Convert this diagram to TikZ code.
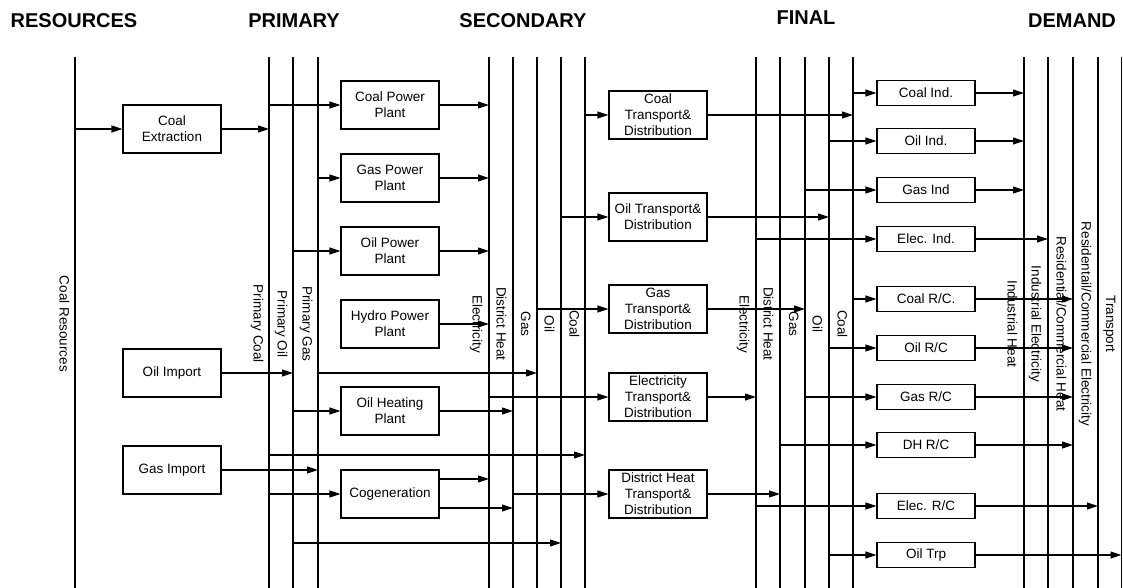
\documentclass[tikz,border=0pt]{standalone}
\usepackage{fontspec}
\setmainfont{Liberation Sans}
\usetikzlibrary{arrows.meta}

\begin{document}
\begin{tikzpicture}[
  x=1pt, y=-1pt, line width=1.1pt,
  font=\fontsize{13.5}{16}\selectfont,
  head/.style={font=\fontsize{20}{24}\selectfont\bfseries},
  box/.style={draw, minimum width=98pt, minimum height=48pt, inner sep=0pt, align=center},
  dbox/.style={draw, minimum width=98pt, minimum height=25pt, inner sep=0pt, align=center},
  lab/.style={rotate=-90, anchor=north, inner sep=0pt},
  flow/.style={draw, -{Triangle[length=11pt, width=7pt]}}
]
\useasboundingbox (0,0) rectangle (1123,588);

\node[head] (hres) at (74,21) {RESOURCES};
\node[head] (hprim) at (294,21) {PRIMARY};
\node[head] (hsec) at (523,21) {SECONDARY};
\node[head] (hfin) at (806,18) {FINAL};
\node[head] (hdem) at (1072,21) {DEMAND};

\coordinate (res) at (75,57);
\coordinate (pcoal) at (269,57);
\coordinate (poil) at (293,57);
\coordinate (pgas) at (318,57);
\coordinate (selec) at (489,57);
\coordinate (sdh) at (513,57);
\coordinate (sgas) at (537,57);
\coordinate (soil) at (561,57);
\coordinate (scoal) at (585,57);
\coordinate (felec) at (756,57);
\coordinate (fdh) at (780,57);
\coordinate (fgas) at (805,57);
\coordinate (foil) at (829,57);
\coordinate (fcoal) at (853,57);
\coordinate (dheat) at (1024,57);
\coordinate (delec) at (1048,57);
\coordinate (drheat) at (1073,57);
\coordinate (drelec) at (1098,57);
\coordinate (dtrp) at (1121.5,57);
\foreach \b in {res,pcoal,poil,pgas,selec,sdh,sgas,soil,scoal,felec,fdh,fgas,foil,fcoal,dheat,delec,drheat,drelec,dtrp}
  \draw (\b) -- (\b |- 0,588);

\node[lab] (lres) at (70,324) {Coal Resources};
\node[lab] (lpcoal) at (264,324) {Primary Coal};
\node[lab] (lpoil) at (288,324) {Primary Oil};
\node[lab] (lpgas) at (313,324) {Primary Gas};
\node[lab] (lselec) at (483,324) {Electricity};
\node[lab] (lsdh) at (507,324) {District Heat};
\node[lab] (lsgas) at (531,324) {Gas};
\node[lab] (lsoil) at (555,324) {Oil};
\node[lab] (lscoal) at (580,324) {Coal};
\node[lab] (lfelec) at (750,324) {Electricity};
\node[lab] (lfdh) at (774,324) {District Heat};
\node[lab] (lfgas) at (799,324) {Gas};
\node[lab] (lfoil) at (823,324) {Oil};
\node[lab] (lfcoal) at (848,324) {Coal};
\node[lab] (ldheat) at (1018,324) {Industrial Heat};
\node[lab] (ldelec) at (1042,324) {Industrial Electricity};
\node[lab] (ldrheat) at (1067,324) {Residential/Commercial Heat};
\node[lab] (ldrelec) at (1092,324) {Residentail/Commercial Electricity};
\node[lab] (ldtrp) at (1116,324) {Transport};

\node[box] (cext) at (172,129) {Coal\\Extraction};
\node[box] (oimp) at (172,373) {Oil Import};
\node[box] (gimp) at (172,470) {Gas Import};

\node[box] (cpp) at (390,105) {Coal Power\\Plant};
\node[box] (gpp) at (390,178) {Gas Power\\Plant};
\node[box] (opp) at (390,251) {Oil Power\\Plant};
\node[box] (hpp) at (390,324) {Hydro Power\\Plant};
\node[box] (ohp) at (390,411) {Oil Heating\\Plant};
\node[box] (cog) at (390,494) {Cogeneration};

\node[box] (ctd) at (658,115) {Coal\\Transport\&\\Distribution};
\node[box] (otd) at (658,217) {Oil Transport\&\\Distribution};
\node[box] (gtd) at (658,309) {Gas\\Transport\&\\Distribution};
\node[box] (etd) at (658,397) {Electricity\\Transport\&\\Distribution};
\node[box] (htd) at (658,494) {District Heat\\Transport\&\\Distribution};

\node[dbox] (cind) at (926,93) {Coal Ind.};
\node[dbox] (oind) at (926,141) {Oil Ind.};
\node[dbox] (gind) at (926,190) {Gas Ind};
\node[dbox] (eind) at (926,239) {Elec. Ind.};
\node[dbox] (crc) at (926,299) {Coal R/C.};
\node[dbox] (orc) at (926,348) {Oil R/C};
\node[dbox] (grc) at (926,397) {Gas R/C};
\node[dbox] (hrc) at (926,445) {DH R/C};
\node[dbox] (erc) at (926,506) {Elec. R/C};
\node[dbox] (otrp) at (926,555) {Oil Trp};

\draw[flow] (res |- cext.west) -- (cext.west);
\draw[flow] (cext.east) -- (cext.east -| pcoal);
\draw[flow] (oimp.east) -- (oimp.east -| poil);
\draw[flow] (gimp.east) -- (gimp.east -| pgas);

\draw[flow] (pcoal |- cpp.west) -- (cpp.west);
\draw[flow] (pgas |- gpp.west) -- (gpp.west);
\draw[flow] (poil |- opp.west) -- (opp.west);
\draw[flow] (poil |- ohp.west) -- (ohp.west);
\draw[flow] (pcoal |- cog.west) -- (cog.west);
\draw[flow] (pgas |- 0,373) -- (sgas |- 0,373);
\draw[flow] (pcoal |- 0,455) -- (scoal |- 0,455);
\draw[flow] (poil |- 0,543) -- (soil |- 0,543);

\coordinate (cogup) at ([yshift=15pt]cog.east);
\coordinate (coglo) at ([yshift=-14pt]cog.east);
\draw[flow] (cpp.east) -- (cpp.east -| selec);
\draw[flow] (gpp.east) -- (gpp.east -| selec);
\draw[flow] (opp.east) -- (opp.east -| selec);
\draw[flow] (hpp.east) -- (hpp.east -| selec);
\draw[flow] (ohp.east) -- (ohp.east -| sdh);
\draw[flow] (cogup) -- (cogup -| selec);
\draw[flow] (coglo) -- (coglo -| sdh);

\draw[flow] (scoal |- ctd.west) -- (ctd.west);
\draw[flow] (soil |- otd.west) -- (otd.west);
\draw[flow] (sgas |- gtd.west) -- (gtd.west);
\draw[flow] (selec |- etd.west) -- (etd.west);
\draw[flow] (sdh |- htd.west) -- (htd.west);

\draw[flow] (ctd.east) -- (ctd.east -| fcoal);
\draw[flow] (otd.east) -- (otd.east -| foil);
\draw[flow] (gtd.east) -- (gtd.east -| fgas);
\draw[flow] (etd.east) -- (etd.east -| felec);
\draw[flow] (htd.east) -- (htd.east -| fdh);

\draw[flow] (fcoal |- cind.west) -- (cind.west);
\draw[flow] (foil |- oind.west) -- (oind.west);
\draw[flow] (fgas |- gind.west) -- (gind.west);
\draw[flow] (felec |- eind.west) -- (eind.west);
\draw[flow] (fcoal |- crc.west) -- (crc.west);
\draw[flow] (foil |- orc.west) -- (orc.west);
\draw[flow] (fgas |- grc.west) -- (grc.west);
\draw[flow] (fdh |- hrc.west) -- (hrc.west);
\draw[flow] (felec |- erc.west) -- (erc.west);
\draw[flow] (foil |- otrp.west) -- (otrp.west);

\draw[flow] (cind.east) -- (cind.east -| dheat);
\draw[flow] (oind.east) -- (oind.east -| dheat);
\draw[flow] (gind.east) -- (gind.east -| dheat);
\draw[flow] (eind.east) -- (eind.east -| delec);
\draw[flow] (crc.east) -- (crc.east -| drheat);
\draw[flow] (orc.east) -- (orc.east -| drheat);
\draw[flow] (grc.east) -- (grc.east -| drheat);
\draw[flow] (hrc.east) -- (hrc.east -| drheat);
\draw[flow] (erc.east) -- (erc.east -| drelec);
\draw[flow] (otrp.east) -- (otrp.east -| dtrp);
\end{tikzpicture}
\end{document}
